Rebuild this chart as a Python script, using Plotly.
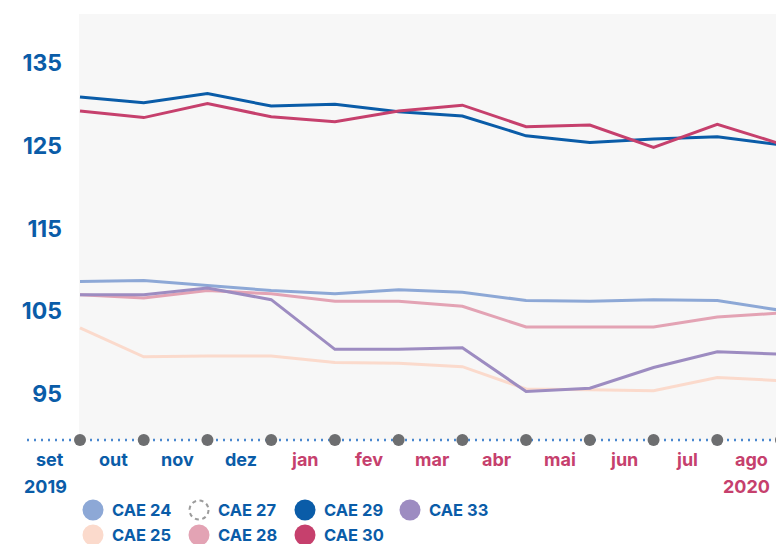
import plotly.graph_objects as go

# ---- data ----
months = ["set", "out", "nov", "dez", "jan", "fev", "mar", "abr", "mai", "jun", "jul", "ago"]
month_years = ["2019", "", "", "", "", "", "", "", "", "", "", "2020"]
cae24 = [108.6, 108.7, 108.1, 107.5, 107.1, 107.6, 107.3, 106.3, 106.2, 106.4, 106.3, 105.1]
cae25 = [103.0, 99.5, 99.6, 99.6, 98.8, 98.7, 98.3, 95.6, 95.5, 95.4, 97.0, 96.6]
cae28 = [107.0, 106.6, 107.5, 107.1, 106.2, 106.2, 105.6, 103.1, 103.1, 103.1, 104.3, 104.8]
cae29 = [130.9, 130.2, 131.3, 129.8, 130.0, 129.1, 128.6, 126.2, 125.4, 125.8, 126.1, 125.1]
cae30 = [129.2, 128.4, 130.1, 128.5, 127.9, 129.2, 129.9, 127.3, 127.5, 124.8, 127.6, 125.2]
cae33 = [107.0, 107.0, 107.8, 106.4, 100.4, 100.4, 100.6, 95.3, 95.7, 98.2, 100.1, 99.8]
y_ticks = [95, 105, 115, 125, 135]

series = {
    "CAE 25": (cae25, "#fbdacc"),
    "CAE 24": (cae24, "#8da8d6"),
    "CAE 28": (cae28, "#e3a3b4"),
    "CAE 33": (cae33, "#9d8cc1"),
    "CAE 29": (cae29, "#0a5ca8"),
    "CAE 30": (cae30, "#c6406d"),
}
legend_items = [
    ("CAE 24", "#8da8d6", False), ("CAE 25", "#fbdacc", False),
    ("CAE 27", None, True), ("CAE 28", "#e3a3b4", False),
    ("CAE 29", "#0a5ca8", False), ("CAE 30", "#c6406d", False),
    ("CAE 33", "#9d8cc1", False),
]

BLUE = "#0a5ca8"
CRIMSON = "#c6406d"
FONT = "Inter"

OFF = 8  # page body margin offset
W, H = 784 - OFF, 544 - OFF
ML, MR, MT = 79 - OFF, 0, 14 - OFF
MB = H - (440 - OFF)
PW, PH = W - ML - MR, H - MT - MB
x_range = [-0.0157, 11.047]
y_range = [89.44, 140.92]

def px_to_paper_x(px):
    return (px - OFF - ML) / PW

def px_to_paper_y(py):
    return (H - MB - (py - OFF)) / PH

def idx_to_paper_x(v):
    return (v - x_range[0]) / (x_range[1] - x_range[0])

xs = list(range(len(months)))

fig = go.Figure()
for name, (vals, col) in series.items():
    fig.add_trace(go.Scatter(x=xs, y=vals, name=name, mode="lines",
                             line=dict(color=col, width=3), showlegend=False,
                             hoverinfo="x+y+name"))

# month markers on the axis
fig.add_trace(go.Scatter(x=xs, y=[y_range[0]] * len(xs), mode="markers",
                         marker=dict(color="#6d6e70", size=12),
                         cliponaxis=False, showlegend=False, hoverinfo="skip"))

shapes = [
    dict(type="line", xref="paper", yref="paper", x0=px_to_paper_x(27), x1=1,
         y0=0, y1=0, layer="below",
         line=dict(color="#4a88cf", width=2.5, dash="2px,5px")),
]
annotations = []

# month labels
for i, (m, yr) in enumerate(zip(months, month_years)):
    col = BLUE if i < 4 else CRIMSON
    xp = idx_to_paper_x(i - 0.47)
    annotations.append(dict(x=xp, y=px_to_paper_y(459), xref="paper", yref="paper",
                            text=m, showarrow=False, xanchor="center", yanchor="middle",
                            font=dict(family=FONT, size=18, color=col, weight=700)))
    if yr:
        annotations.append(dict(x=xp - 0.006, y=px_to_paper_y(486), xref="paper", yref="paper",
                                text=yr, showarrow=False, xanchor="center", yanchor="middle",
                                font=dict(family=FONT, size=18, color=col, weight=700)))

# legend (two rows, column-major)
col_x = [93, 199, 305, 410]
row_y = [510, 535]
for k, (name, col, dashed) in enumerate(legend_items):
    c, r = divmod(k, 2)
    cx, cy = col_x[c], row_y[r]
    if dashed:
        shp = dict(fillcolor="rgba(0,0,0,0)", line=dict(color="#9b9b9b", width=2, dash="4px,3.5px"))
        rad = 9.5
    else:
        shp = dict(fillcolor=col, line=dict(width=0))
        rad = 10.5
    shapes.append(dict(type="circle", xref="paper", yref="paper",
                       xsizemode="pixel", ysizemode="pixel",
                       xanchor=px_to_paper_x(cx), yanchor=px_to_paper_y(cy),
                       x0=-rad, x1=rad, y0=-rad, y1=rad, **shp))
    annotations.append(dict(x=px_to_paper_x(cx + 17), y=px_to_paper_y(cy), xref="paper", yref="paper",
                            text=name, showarrow=False, xanchor="left", yanchor="middle",
                            font=dict(family=FONT, size=16.5, color=BLUE, weight=700)))

fig.update_layout(
    width=W, height=H,
    margin=dict(l=ML, r=MR, t=MT, b=MB, pad=0),
    paper_bgcolor="white", plot_bgcolor="#f7f7f7",
    showlegend=False,
    xaxis=dict(range=x_range, visible=False, fixedrange=True),
    yaxis=dict(range=y_range, tickvals=y_ticks, ticktext=[str(v) for v in y_ticks],
               showgrid=False, zeroline=False, showline=False, ticks="",
               ticklabelstandoff=16,
               tickfont=dict(family=FONT, size=23, color=BLUE, weight=700),
               fixedrange=True),
    shapes=shapes, annotations=annotations,
)

fig.write_html("out.html")
